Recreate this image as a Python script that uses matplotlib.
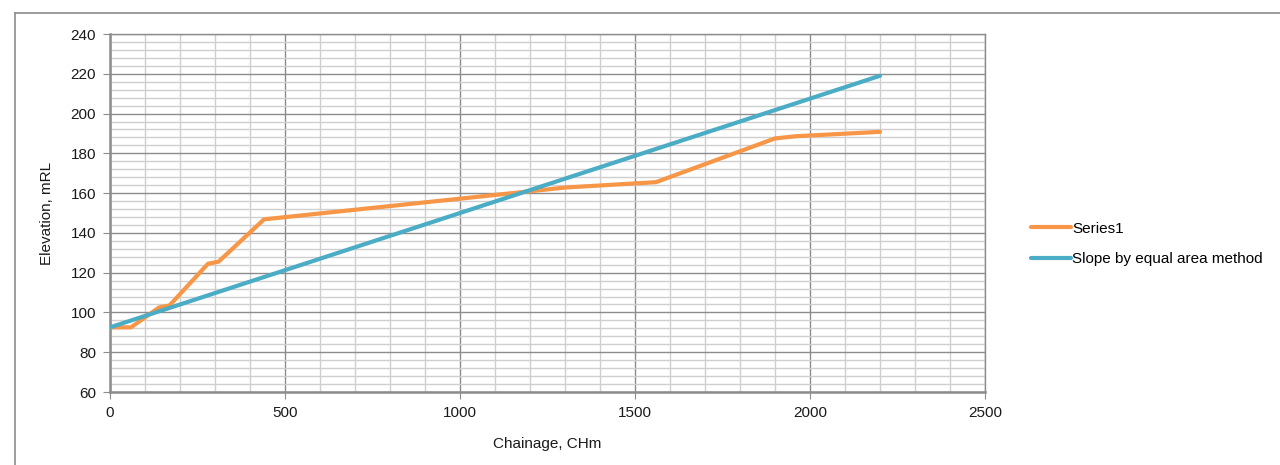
import numpy as np
import matplotlib
matplotlib.use("Agg")
import matplotlib.pyplot as plt
from matplotlib.ticker import MultipleLocator
from matplotlib.lines import Line2D

plt.rcParams['font.family'] = ['Liberation Sans', 'DejaVu Sans']

# chainage (CHm) and elevation (mRL) of ground profile
chainage = [0, 60, 140, 170, 280, 310, 440, 1000, 1300, 1560, 1900, 1960, 2200]
elevation = [92.5, 92.5, 102.5, 103.5, 124.5, 125.5, 146.8, 157.2, 162.8, 165.5, 187.5, 188.6, 190.8]

# slope line by equal area method
slope_x = [0, 2200]
slope_y = [92.5, 219]

orange = '#F79646'
blue = '#4BACC6'

fig = plt.figure(figsize=(12.8, 4.65), dpi=100)
ax = fig.add_axes([110/1280, 1 - 392/465, 875/1280, 358/465])

# outer chart frame (left and top edges visible)
fig.add_artist(Line2D([15/1280, 15/1280], [0, 1 - 13/465], color='#8c8c8c', lw=1.2,
                      transform=fig.transFigure))
fig.add_artist(Line2D([15/1280, 1], [1 - 13/465, 1 - 13/465], color='#8c8c8c', lw=1.2,
                      transform=fig.transFigure))

ax.plot(chainage, elevation, color=orange, lw=3, solid_joinstyle='round',
        solid_capstyle='round', label='Series1', zorder=3)
ax.plot(slope_x, slope_y, color=blue, lw=3, solid_capstyle='round',
        label='Slope by equal area method', zorder=4)

ax.set_xlim(0, 2500)
ax.set_ylim(60, 240)
ax.xaxis.set_major_locator(MultipleLocator(500))
ax.xaxis.set_minor_locator(MultipleLocator(100))
ax.yaxis.set_major_locator(MultipleLocator(20))
ax.yaxis.set_minor_locator(MultipleLocator(4))

ax.grid(which='major', color='#8c8c8c', lw=1.0)
ax.grid(which='minor', color='#cfcfcf', lw=1.0)
ax.set_axisbelow(True)

for s in ax.spines.values():
    s.set_color('#8c8c8c')
    s.set_linewidth(1.0)
ax.spines['bottom'].set_linewidth(1.8)
ax.spines['left'].set_linewidth(1.8)

ax.tick_params(which='major', length=5, color='#8c8c8c', labelsize=11, pad=5,
               labelcolor='#1a1a1a')
ax.tick_params(which='minor', length=0)

ax.set_xlabel('Chainage, CHm', fontsize=11, color='#1a1a1a', labelpad=12)
ax.set_ylabel('Elevation, mRL', fontsize=11, color='#1a1a1a', labelpad=12)

fig.legend(loc='center left', bbox_to_anchor=(1025/1280, 1 - 244/465), frameon=False,
           fontsize=11, handlelength=2.6, handletextpad=0.1, labelspacing=1.1,
           borderaxespad=0)

fig.savefig('out.png', dpi=100)
